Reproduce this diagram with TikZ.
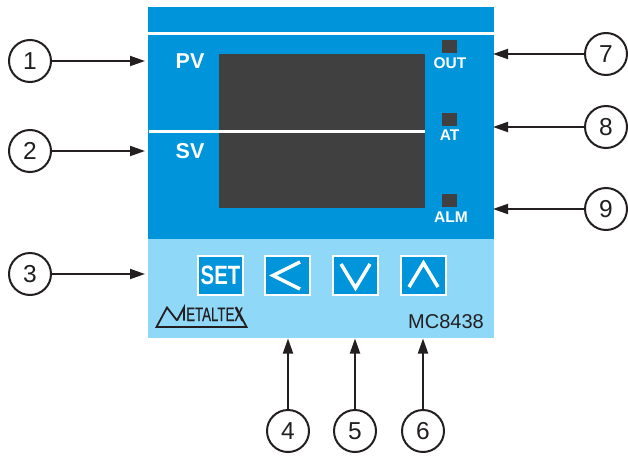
\documentclass[tikz,border=0pt]{standalone}
\usepackage{fontspec}
\setmainfont{Liberation Sans}
\usetikzlibrary{arrows.meta}
\definecolor{panelblue}{HTML}{0095DA}
\definecolor{lightblue}{HTML}{8FD8F8}
\definecolor{darkgrey}{HTML}{404040}
\definecolor{inkline}{HTML}{231F20}
\tikzset{
  callout/.style={circle,draw=inkline,line width=2pt,fill=white,minimum size=42pt,inner sep=0pt,text=inkline,font=\fontsize{24.5}{24.5}\selectfont},
  leader/.style={draw=inkline,line width=1.9pt,-{Triangle[length=15pt,width=10pt]}},
  panellabel/.style={text=white,font=\bfseries\fontsize{21.5}{21.5}\selectfont,inner sep=0pt},
  ledlabel/.style={text=white,font=\bfseries\fontsize{15.5}{15.5}\selectfont,inner sep=0pt},
  led/.style={fill=darkgrey,draw=none},
  keybox/.style={fill=panelblue,draw=white,line width=1.1pt,minimum width=45pt,minimum height=39pt,inner sep=0pt},
  keystroke/.style={draw=white,line width=3.5pt,line join=miter},
  whiterule/.style={draw=white,line width=3pt},
}
\begin{document}
\begin{tikzpicture}[x=1pt,y=-1pt]
\useasboundingbox (0,0) rectangle (628,455);
% panel
\fill[panelblue] (148,7) rectangle (494,239);
\fill[lightblue] (148,239) rectangle (494,338);
\fill[darkgrey] (219,54) rectangle (425,208);
\draw[whiterule] (148,33) -- (494,33);
\draw[whiterule] (149,131) -- (425,131);
% LEDs
\fill[led] (442,40) rectangle (457,53);
\fill[led] (442,113) rectangle (457,126);
\fill[led] (442,194) rectangle (457,207);
% labels
\node[panellabel] (pv) at (190,61) {PV};
\node[panellabel] (sv) at (190,151.5) {SV};
\node[ledlabel] (out) at (450,63.5) {OUT};
\node[ledlabel] (at) at (449.5,135.5) {AT};
\node[ledlabel] (alm) at (451,217.5) {ALM};
% keys
\node[keybox,text=white,font=\bfseries\fontsize{26.5}{26.5}\selectfont] (set) at (220.5,275.5) {\addfontfeature{FakeStretch=0.77}SET};
\node[keybox] (left) at (287.5,275.5) {};
\node[keybox] (down) at (355.5,275.5) {};
\node[keybox] (up) at (423.5,275.5) {};
\draw[keystroke] (300,262) -- (273,275.5) -- (300,289);
\draw[keystroke] (341,264) -- (355.5,288) -- (370,264);
\draw[keystroke] (409,287) -- (423.5,263) -- (438,287);
% logo
\draw[inkline,line width=1.8pt,line join=miter] (177,320.5) -- (167,307.5) -- (156.5,327) -- (246.5,327) -- (236,307);
\draw[inkline,line width=1.8pt,line join=miter] (177,320.5) -- (184,307.5) -- (184,320.5);
\node[inner sep=0pt,anchor=base west,text=inkline,font=\fontsize{19.5}{19.5}\selectfont] (logo) at (186,321) {\addfontfeature{FakeStretch=0.68,FakeBold=0.4}ETALTEX};
\node[inner sep=0pt,text=inkline,font=\fontsize{20}{20}\selectfont] (model) at (446,321.5) {MC8438};
% callouts
\node[callout] (c1) at (30,61) {1};
\node[callout] (c2) at (30,151) {2};
\node[callout] (c3) at (30,274) {3};
\node[callout] (c4) at (288,431) {4};
\node[callout] (c5) at (355,431) {5};
\node[callout] (c6) at (423,431) {6};
\node[callout] (c7) at (606,54) {7};
\node[callout] (c8) at (606,127) {8};
\node[callout] (c9) at (606,209) {9};
\coordinate (t1) at (145,61);
\coordinate (t2) at (145,151);
\coordinate (t3) at (145,274);
\coordinate (t4) at (288,338.5);
\coordinate (t5) at (355,338.5);
\coordinate (t6) at (423,338.5);
\coordinate (t7) at (493,54);
\coordinate (t8) at (493,127);
\coordinate (t9) at (493,209);
\foreach \i in {1,...,9} \draw[leader] (c\i) -- (t\i);
\end{tikzpicture}
\end{document}
